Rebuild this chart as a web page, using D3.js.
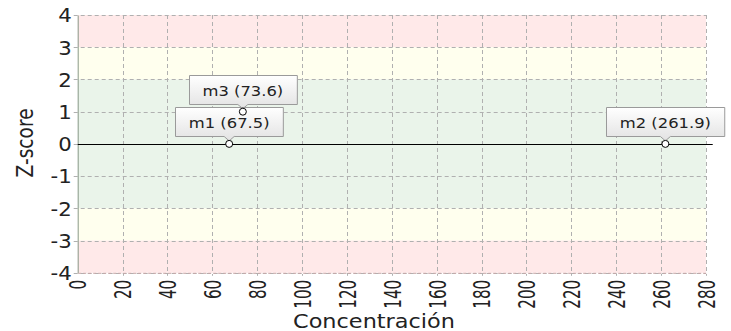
<!DOCTYPE html>
<html><head><meta charset="utf-8">
<script src="https://cdn.jsdelivr.net/npm/d3@7"></script>
<style>
html,body{margin:0;padding:0;background:#fff;}
svg{display:block;}
</style></head>
<body>
<svg id="chart" width="731" height="331"></svg>
<script>
// ---- data ----
const pointNames = ["m1", "m3", "m2"];
const pointX = [67.5, 73.6, 261.9];
const pointZ = [0, 1, 0];
const xTicks = [0, 20, 40, 60, 80, 100, 120, 140, 160, 180, 200, 220, 240, 260, 280];
const yTicks = [-4, -3, -2, -1, 0, 1, 2, 3, 4];
const bandFrom = [3, 2, -2, -3, -4];
const bandTo = [4, 3, 2, -2, -3];
const bandColor = ["#ffe9e9", "#ffffee", "#eaf4ea", "#ffffee", "#ffe9e9"];
const zeroLineX = [0, 283];
const xTitle = "Concentración";
const yTitle = "Z-score";

// ---- layout ----
const svg = d3.select("#chart");
const mLeft = 77.7, mRight = 706, mTop = 15, mBottom = 272.8;
const x = d3.scaleLinear().domain([0, 280]).range([mLeft, mRight]);
const y = d3.scaleLinear().domain([-4, 4]).range([mBottom, mTop]);
const SX = 1.17; // horizontal stretch of horizontal text

function stretch(sel, f) {
  sel.each(function () {
    const L = this.getComputedTextLength();
    d3.select(this).attr("textLength", L * f).attr("lengthAdjust", "spacingAndGlyphs");
  });
}

// bands
const bands = bandFrom.map((f, i) => ({f, t: bandTo[i], c: bandColor[i]}));
svg.append("g").selectAll("rect").data(bands).join("rect")
  .attr("x", x(0)).attr("width", x(280) - x(0))
  .attr("y", d => y(d.t)).attr("height", d => y(d.f) - y(d.t))
  .attr("fill", d => d.c);

// grid
const grid = svg.append("g").attr("stroke", "#b0b0b0").attr("stroke-dasharray", "4,3").attr("stroke-width", 1);
grid.selectAll("line.v").data(xTicks.filter(d => d > 0)).join("line")
  .attr("x1", d => Math.round(x(d)) + 0.5).attr("x2", d => Math.round(x(d)) + 0.5)
  .attr("y1", mTop).attr("y2", mBottom + 3);
grid.selectAll("line.h").data(yTicks).join("line")
  .attr("y1", d => Math.round(y(d)) + 0.5).attr("y2", d => Math.round(y(d)) + 0.5)
  .attr("x1", mLeft - 4).attr("x2", mRight);

// y axis
const yAxis = d3.axisLeft(y).tickValues(yTicks).tickSize(0).tickPadding(6).tickFormat(d => String(d));
const gy = svg.append("g").attr("transform", `translate(${mLeft},0)`).call(yAxis);
gy.select(".domain").attr("stroke", "#8a9a8a");
const yt = gy.selectAll("text").attr("font-family", "DejaVu Sans").attr("font-size", 19)
  .attr("fill", "#222").attr("dy", "0.36em").attr("x", -6);
stretch(yt, 1.12);

// x axis
const xAxis = d3.axisBottom(x).tickValues(xTicks).tickSize(0).tickPadding(4);
const gx = svg.append("g").attr("transform", `translate(0,${mBottom})`).call(xAxis);
gx.select(".domain").attr("stroke", "#c8a8a8").attr("stroke-dasharray", "3,2");
const xt = gx.selectAll("text")
  .attr("font-family", "DejaVu Sans").attr("font-size", 23).attr("fill", "#222")
  .attr("transform", "rotate(-90)")
  .attr("text-anchor", "end").attr("x", -7).attr("y", 0).attr("dy", "0.36em");
stretch(xt, 0.66);

// titles
const tx = svg.append("text").attr("x", 293).attr("y", 328)
  .attr("font-family", "DejaVu Sans").attr("font-size", 19)
  .attr("fill", "#222").text(xTitle);
tx.attr("textLength", 162).attr("lengthAdjust", "spacingAndGlyphs");
const ty = svg.append("text").attr("transform", `translate(33,${y(0) - 1}) rotate(-90)`)
  .attr("text-anchor", "middle").attr("font-family", "DejaVu Sans").attr("font-size", 23)
  .attr("fill", "#222").text(yTitle);
ty.attr("textLength", 69).attr("lengthAdjust", "spacingAndGlyphs");

// zero line
svg.append("line").attr("x1", x(zeroLineX[0])).attr("x2", x(zeroLineX[1]))
  .attr("y1", Math.round(y(0)) + 0.5).attr("y2", Math.round(y(0)) + 0.5)
  .attr("stroke", "#000").attr("stroke-width", 1);

// gradient for labels
const defs = svg.append("defs");
const grad = defs.append("linearGradient").attr("id", "lblGrad").attr("x1", 0).attr("x2", 0).attr("y1", 0).attr("y2", 1);
grad.append("stop").attr("offset", "0%").attr("stop-color", "#ffffff");
grad.append("stop").attr("offset", "100%").attr("stop-color", "#e2e2e2");

const pts = pointNames.map((n, i) => ({n, vx: pointX[i], vz: pointZ[i]}));

// callout labels (m1 drawn after m3 so it overlaps)
const order = [1, 0, 2];
const lg = svg.append("g");
order.forEach(i => {
  const d = pts[i];
  const px = x(d.vx), py = y(d.vz);
  const label = `${d.n} (${d.vx.toFixed(1)})`;
  const g = lg.append("g");
  const t = g.append("text").attr("font-family", "DejaVu Sans").attr("font-size", 14)
    .attr("fill", "#222").attr("text-anchor", "middle").text(label);
  const L = t.node().getComputedTextLength() * SX;
  t.attr("textLength", L).attr("lengthAdjust", "spacingAndGlyphs");
  const w = L + 27;
  const h = 29;
  const bx = Math.round(px - w / 2) + 0.5, by = Math.round(py - 8 - h) + 0.5;
  const path = `M${bx},${by} H${bx + w} V${by + h} H${px + 5} L${px},${py - 3} L${px - 5},${by + h} H${bx} Z`;
  g.insert("path", "text").attr("d", path).attr("fill", "url(#lblGrad)").attr("stroke", "#9a9a9a").attr("stroke-width", 1);
  t.attr("x", px).attr("y", by + h / 2 + 5.5);
});

// points
svg.append("g").selectAll("circle").data(pts).join("circle")
  .attr("cx", d => x(d.vx)).attr("cy", d => y(d.vz)).attr("r", 3.5)
  .attr("fill", "#fff").attr("stroke", "#000").attr("stroke-width", 1);
</script>
</body></html>
